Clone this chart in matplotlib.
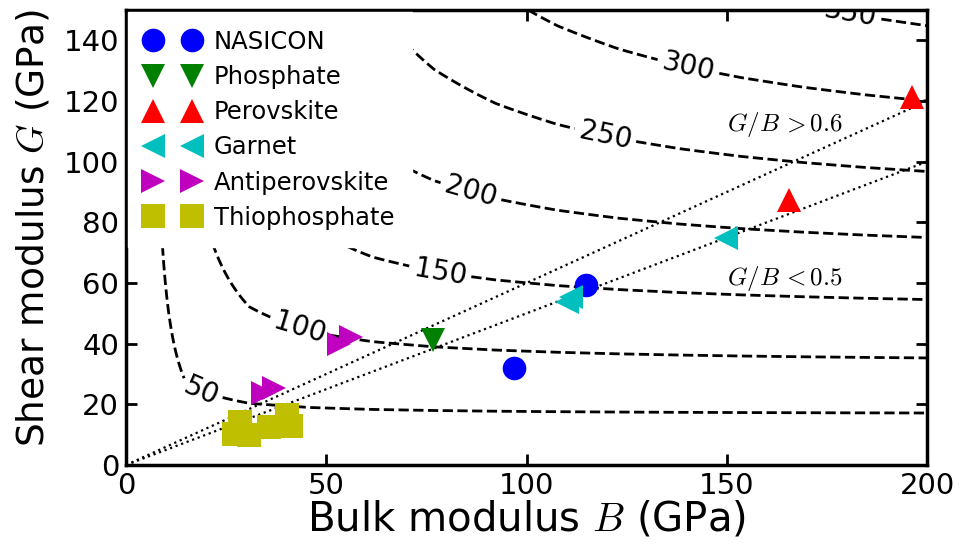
import numpy as np
import matplotlib
matplotlib.use('Agg')
import matplotlib.pyplot as plt

plt.rcParams['mathtext.fontset'] = 'cm'
plt.rcParams['font.family'] = 'DejaVu Sans'

# Bulk modulus B and shear modulus G (GPa) of each electrolyte family
nasicon_B = [114.9, 96.9]
nasicon_G = [59.3, 32.0]
phosphate_B = [76.7]
phosphate_G = [41.1]
perovskite_B = [196.3, 165.5]
perovskite_G = [121.4, 87.2]
garnet_B = [149.9, 110.0, 111.2]
garnet_G = [74.8, 53.8, 55.3]
antiperovskite_B = [53.2, 56.3, 34.2, 37.0]
antiperovskite_G = [39.9, 42.1, 23.9, 25.4]
thiophosphate_B = [28.5, 27.0, 30.8, 35.6, 40.2, 41.2]
thiophosphate_G = [14.3, 10.2, 9.9, 12.4, 16.5, 12.9]

families = ['NASICON', 'Phosphate', 'Perovskite', 'Garnet',
            'Antiperovskite', 'Thiophosphate']
bulk = [nasicon_B, phosphate_B, perovskite_B, garnet_B,
        antiperovskite_B, thiophosphate_B]
shear = [nasicon_G, phosphate_G, perovskite_G, garnet_G,
         antiperovskite_G, thiophosphate_G]
markers = ['o', 'v', '^', '<', '>', 's']
colors = ['b', 'g', 'r', 'c', 'm', 'y']

# Young's modulus iso-lines (GPa) and Pugh ratio guide lines
young_levels = [50, 100, 150, 200, 250, 300, 350]
label_spots = [(18.5, 23.6), (43.2, 44.3), (78.4, 63.3), (85.9, 89.2),
               (119.6, 108.2), (140.3, 130.5), (180.8, 148.5)]
pugh_ratios = [0.6, 0.5]

fig = plt.figure(figsize=(9.66, 5.52), dpi=100)
ax = fig.add_axes([126 / 966, 1 - 465 / 552, 801 / 966, 455 / 552])

# E = 9BG / (3B + G) on a coarse B grid and a fine G grid
Bg, Gg = np.meshgrid(np.linspace(0, 200, 14), np.linspace(0, 150, 301))
den = 3 * Bg + Gg
E = np.where(den > 0, 9 * Bg * Gg / np.where(den > 0, den, 1), 0.0)
cs = ax.contour(Bg, Gg, E, levels=young_levels, colors='k',
                linestyles='--', linewidths=2)
labels = ax.clabel(cs, fmt='%d', fontsize=20, inline=True,
                   manual=label_spots)
for t in labels:
    t.set_clip_on(True)

Bline = np.array([0, 200])
for r in pugh_ratios:
    ax.plot(Bline, r * Bline, color='k', linestyle=':', linewidth=1.6)

for B, G, mk, c, name in zip(bulk, shear, markers, colors, families):
    ax.plot(B, G, linestyle='none', marker=mk, color=c, markersize=17,
            markeredgewidth=0, label=name)

ax.text(150, 110, r'$G/B\,{>}0.6$', fontsize=18)
ax.text(150, 59.5, r'$G/B\,{<}0.5$', fontsize=18)

ax.set_xlim(0, 200)
ax.set_ylim(0, 150)
ax.set_xticks([0, 50, 100, 150, 200])
ax.set_yticks([0, 20, 40, 60, 80, 100, 120, 140])
ax.tick_params(direction='in', top=True, right=True, length=8, width=2,
               labelsize=21, pad=5)
for s in ax.spines.values():
    s.set_linewidth(2.5)

ax.set_xlabel('Bulk modulus $B$ (GPa)', fontsize=29, labelpad=0)
ax.set_ylabel('Shear modulus $G$ (GPa)', fontsize=27, labelpad=9)
ax.yaxis.label.set_y(0.52)

leg = ax.legend(loc='upper left', numpoints=2, fontsize=17.5, frameon=True,
                fancybox=False, edgecolor='white', framealpha=1,
                handlelength=2.2, handletextpad=0.6, labelspacing=0.46,
                borderpad=0.72, borderaxespad=0.1)

fig.savefig('out.png', dpi=100)
